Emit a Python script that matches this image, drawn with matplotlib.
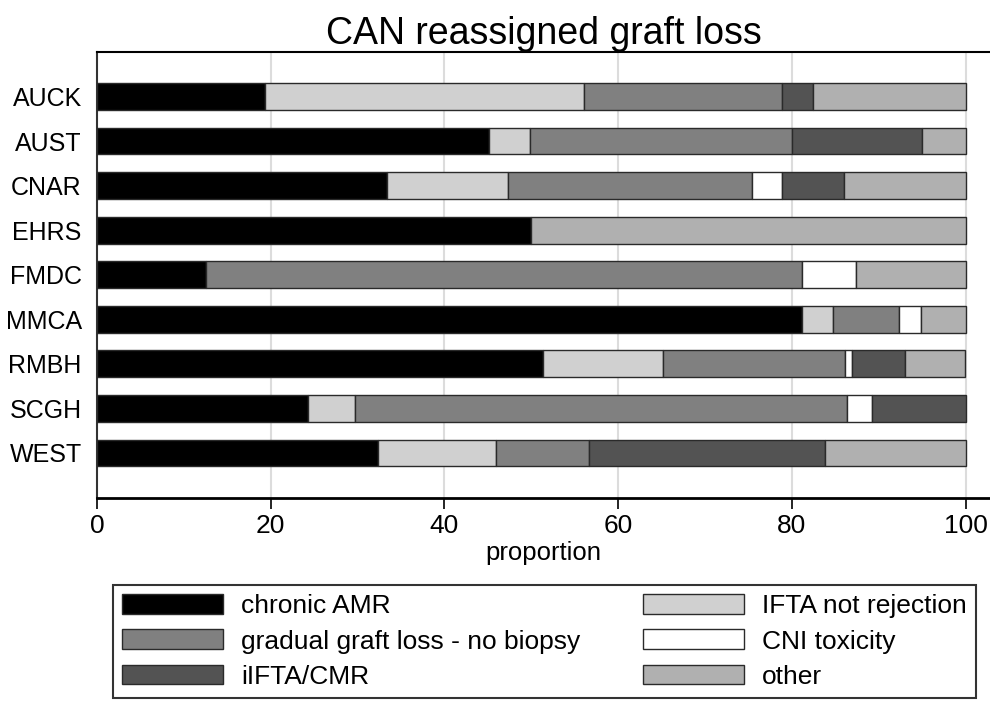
import numpy as np
import matplotlib
matplotlib.use("Agg")
import matplotlib.pyplot as plt
from matplotlib.patches import Patch

plt.rcParams['font.family'] = ['Liberation Sans', 'DejaVu Sans']

##data (percent of graft loss per centre)
centres = ['AUCK', 'AUST', 'CNAR', 'EHRS', 'FMDC', 'MMCA', 'RMBH', 'SCGH', 'WEST']
chronic_amr = [19.4, 45.1, 33.4, 50.0, 12.5, 81.2, 51.4, 24.3, 32.4]
ifta_not_rej = [36.7, 4.8, 13.9, 0.0, 0.0, 3.6, 13.8, 5.4, 13.5]
gradual = [22.8, 30.1, 28.1, 0.0, 68.7, 7.6, 20.9, 56.7, 10.8]
cni_tox = [0.0, 0.0, 3.5, 0.0, 6.2, 2.5, 0.8, 2.8, 0.0]
iifta_cmr = [3.5, 15.0, 7.1, 0.0, 0.0, 0.0, 6.1, 10.8, 27.1]
other = [17.6, 5.0, 14.0, 50.0, 12.6, 5.1, 7.0, 0.0, 16.2]

series = [('chronic AMR', chronic_amr, '#000000'),
          ('IFTA not rejection', ifta_not_rej, '#d0d0d0'),
          ('gradual graft loss - no biopsy', gradual, '#808080'),
          ('CNI toxicity', cni_tox, '#ffffff'),
          ('iIFTA/CMR', iifta_cmr, '#535353'),
          ('other', other, '#b0b0b0')]

##figure
fig = plt.figure(figsize=(9.9, 7.04), dpi=100)
ax = fig.add_axes([97/990, 1 - 497.5/704, 1 - 97/990, (497.5 - 52)/704])

y = np.arange(1, len(centres) + 1)
left = np.zeros(len(centres))
handles = {}
for name, vals, col in series:
    vals = np.array(vals)
    bars = ax.barh(y, vals, left=left, height=0.6, color=col,
                   edgecolor='#2a2a2a', linewidth=1, zorder=3)
    for b, v in zip(bars, vals):
        if v == 0:
            b.set_visible(False)
    left = left + vals
    handles[name] = Patch(facecolor=col, edgecolor='#2a2a2a', linewidth=1)

##axes look
ax.set_xlim(0, 100 * (990 - 97) / (965.5 - 97))
ax.set_ylim(10.0, 0.0)
ax.set_xticks([0, 20, 40, 60, 80, 100])
ax.set_yticks(y)
ax.set_yticklabels(centres)
ax.tick_params(axis='y', length=0, pad=11, labelsize=18)
ax.tick_params(axis='x', length=8, width=1.2, labelsize=19, pad=4)
for gx in [20, 40, 60, 80, 100]:
    ax.axvline(gx, color='#dcdcdc', linewidth=1.5, zorder=1)
ax.spines['right'].set_visible(False)
ax.spines['bottom'].set_linewidth(2)
ax.spines['top'].set_linewidth(1.5)
ax.spines['left'].set_linewidth(1.5)
ax.spines['left'].set_color('#333333')

ax.set_title('CAN reassigned graft loss', fontsize=27, pad=5)
ax.set_xlabel('proportion', fontsize=18.5, labelpad=2)

##legend, two columns filled column-wise
order = ['chronic AMR', 'gradual graft loss - no biopsy', 'iIFTA/CMR',
         'IFTA not rejection', 'CNI toxicity', 'other']
leg = fig.legend([handles[k] for k in order], order, ncol=2,
                 loc='upper left', mode='expand',
                 bbox_to_anchor=(113/990, 0, (976 - 113)/990, 1 - 585/704),
                 fontsize=19, handlelength=3.8, handleheight=0.78,
                 handletextpad=0.7, labelspacing=0.42, borderpad=0.35,
                 fancybox=False, frameon=True, borderaxespad=0)
leg.get_frame().set_edgecolor('black')
leg.get_frame().set_linewidth(1.5)

fig.savefig('out.png', dpi=100)
